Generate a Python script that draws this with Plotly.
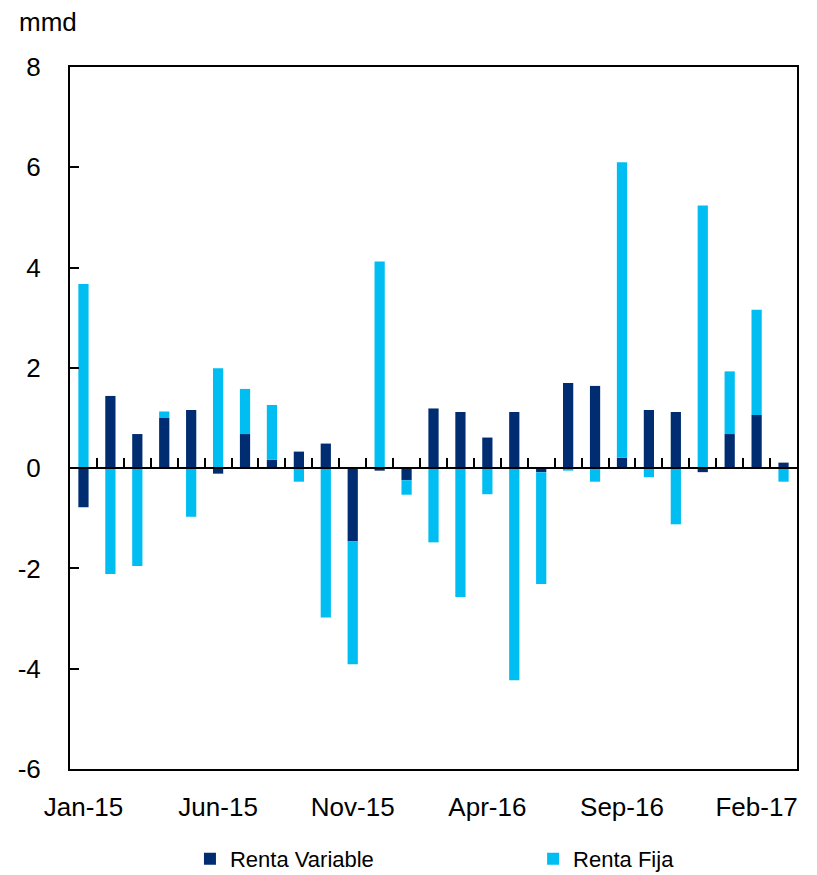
import plotly.graph_objects as go

months = ["Jan-15", "Feb-15", "Mar-15", "Apr-15", "May-15", "Jun-15", "Jul-15", "Aug-15",
          "Sep-15", "Oct-15", "Nov-15", "Dec-15", "Jan-16", "Feb-16", "Mar-16", "Apr-16",
          "May-16", "Jun-16", "Jul-16", "Aug-16", "Sep-16", "Oct-16", "Nov-16", "Dec-16",
          "Jan-17", "Feb-17", "Mar-17"]

renta_variable = [-0.78, 1.44, 0.68, 1.00, 1.16, -0.11, 0.68, 0.17, 0.33, 0.49, -1.46, -0.05,
                  -0.24, 1.19, 1.12, 0.61, 1.12, -0.08, 1.70, 1.64, 0.21, 1.16, 1.12, -0.08,
                  0.68, 1.06, 0.11]

renta_fija = [3.67, -2.11, -1.95, 0.13, -0.97, 1.99, 0.90, 1.09, -0.27, -2.98, -2.45, 4.12,
              -0.29, -1.48, -2.57, -0.52, -4.23, -2.23, -0.05, -0.27, 5.89, -0.18, -1.12, 5.24,
              1.25, 2.10, -0.27]

x_tick_labels = ["Jan-15", "Jun-15", "Nov-15", "Apr-16", "Sep-16", "Feb-17"]
y_tick_values = [-6, -4, -2, 0, 2, 4, 6, 8]
y_tick_labels = ["-6", "-4", "-2", "0", "2", "4", "6", "8"]

DARK = "#002D72"
LIGHT = "#00BEF2"
FONT = "Liberation Sans, Arial, sans-serif"

fig = go.Figure()
fig.add_trace(go.Bar(x=months, y=renta_variable, name="Renta Variable", showlegend=True,
                     marker=dict(color=DARK, line=dict(width=0)), legend="legend"))
fig.add_trace(go.Bar(x=months, y=renta_fija, name="Renta Fija", showlegend=True,
                     marker=dict(color=LIGHT, line=dict(width=0)), legend="legend2"))
# empty helper trace so the zero-line axis (x2) is drawn
fig.add_trace(go.Scatter(x=[], y=[], xaxis="x2", showlegend=False, hoverinfo="skip"))

n = len(months)
between = [i + 0.5 for i in range(n - 1)]
y_lo, y_hi = y_tick_values[0], y_tick_values[-1]

fig.update_layout(
    width=809, height=867,
    margin=dict(l=62, r=20, t=59, b=106, autoexpand=False),
    paper_bgcolor="white", plot_bgcolor="white",
    showlegend=True,
    barmode="relative", bargap=0.62,
    font=dict(family=FONT, size=26, color="black"),
    xaxis=dict(type="category", tickvals=x_tick_labels, ticktext=x_tick_labels,
               ticks="", showline=True, linecolor="black", linewidth=2, mirror=True,
               showgrid=False, zeroline=False, ticklabelstandoff=14, automargin=False,
               tickfont=dict(size=26)),
    xaxis2=dict(overlaying="x", anchor="free", position=(0 - y_lo) / (y_hi - y_lo),
                side="bottom", range=[-0.5, n - 0.5], tickvals=between,
                ticks="inside", ticklen=9, tickwidth=2, tickcolor="black",
                showticklabels=False, showline=True, linecolor="black", linewidth=2,
                showgrid=False, zeroline=False, automargin=False),
    yaxis=dict(range=[y_lo, y_hi], tickvals=y_tick_values, ticktext=y_tick_labels,
               ticks="inside", ticklen=9, tickwidth=2, tickcolor="black",
               showline=True, linecolor="black", linewidth=2, mirror=True,
               showgrid=False, zeroline=False, automargin=False,
               ticklabelstandoff=22, tickfont=dict(size=26)),
    legend=dict(orientation="h", x=0.165, xanchor="left", y=-0.128, yanchor="middle",
                font=dict(size=22), itemwidth=30, bgcolor="rgba(0,0,0,0)"),
    legend2=dict(orientation="h", x=0.637, xanchor="left", y=-0.128, yanchor="middle",
                 font=dict(size=22), itemwidth=30, bgcolor="rgba(0,0,0,0)"),
    annotations=[dict(text="mmd", xref="paper", yref="paper", x=-0.072, y=1.087,
                      xanchor="left", yanchor="top", showarrow=False, borderpad=0,
                      font=dict(size=26))],
)

fig.write_html("out.html")
